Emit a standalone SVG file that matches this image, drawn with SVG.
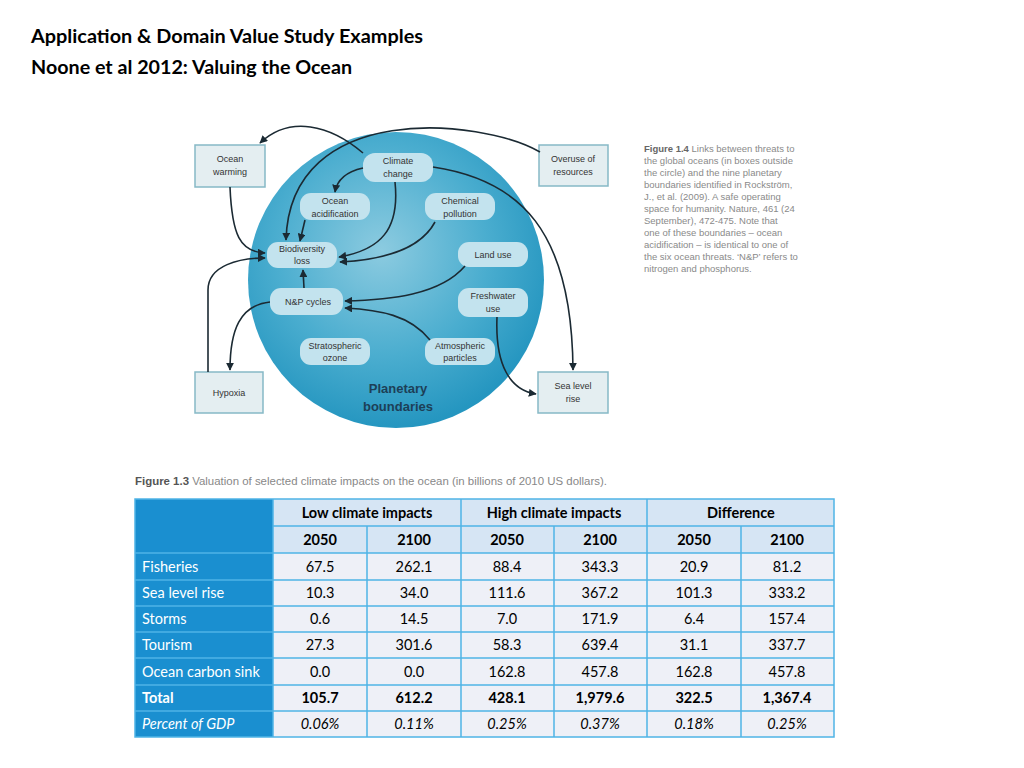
<svg xmlns="http://www.w3.org/2000/svg" width="1024" height="768" viewBox="0 0 1024 768">
<style>
.t{font-family:"Liberation Sans",Arial,sans-serif}
.ti{font-family:"Lato","Open Sans","Liberation Sans",sans-serif;font-weight:bold;font-size:18px;fill:#000}
.d{font-family:"Liberation Sans",Arial,sans-serif;font-size:9px;fill:#333;text-anchor:middle}
.box{fill:#e4eef1;stroke:#86b9c6;stroke-width:1.5}
.pill{fill:#c3e3ee}
.c{fill:none;stroke:#1b2a33;stroke-width:1.6;marker-end:url(#a)}
.cap{font-family:"Liberation Sans",sans-serif;font-size:10.5px;fill:#888}
.tb{font-family:"Lato","Open Sans","Liberation Sans",sans-serif;font-size:14.5px;fill:#000;text-anchor:middle}
.tl{font-family:"Lato","Open Sans","Liberation Sans",sans-serif;font-size:14.5px;fill:#fff}
.b{font-weight:bold}
.i{font-style:italic}
</style>
<defs>
<marker id="a" viewBox="0 0 10 10" refX="9" refY="5" markerWidth="5" markerHeight="5" orient="auto"><path d="M0,0 L10,5 L0,10 z" fill="#1b2a33"/></marker>
<radialGradient id="g" cx="0.45" cy="0.4" r="0.6"><stop offset="0" stop-color="#8ccbe0"/><stop offset="0.6" stop-color="#4aadcf"/><stop offset="1" stop-color="#2596c0"/></radialGradient>
</defs>
<rect width="1024" height="768" fill="#fff"/>
<text class="ti" x="31" y="43" textLength="392" lengthAdjust="spacingAndGlyphs">Application &amp; Domain Value Study Examples</text>
<text class="ti" x="31" y="74" textLength="321" lengthAdjust="spacingAndGlyphs">Noone et al 2012: Valuing the Ocean</text>

<circle cx="396" cy="280" r="148" fill="url(#g)"/>
<text class="t" x="398" y="393" font-size="13" font-weight="bold" fill="#1d3f57" text-anchor="middle">Planetary</text>
<text class="t" x="398" y="411" font-size="13" font-weight="bold" fill="#1d3f57" text-anchor="middle">boundaries</text>

<g id="ocean-warming"><rect class="box" x="195" y="145" width="70" height="42"/><text class="d" x="230" y="162">Ocean</text><text class="d" x="230" y="175">warming</text></g>
<g id="overuse"><rect class="box" x="539" y="145" width="69" height="41"/><text class="d" x="573" y="162">Overuse of</text><text class="d" x="573" y="175">resources</text></g>
<g id="hypoxia"><rect class="box" x="195" y="372" width="68" height="41"/><text class="d" x="229" y="396">Hypoxia</text></g>
<g id="sea-level"><rect class="box" x="538" y="372" width="70" height="41"/><text class="d" x="573" y="389">Sea level</text><text class="d" x="573" y="402">rise</text></g>
<g id="climate"><rect class="pill" x="363" y="153" width="70" height="29" rx="12"/><text class="d" x="398" y="164">Climate</text><text class="d" x="398" y="177">change</text></g>
<g id="acid"><rect class="pill" x="300" y="193" width="70" height="27" rx="11"/><text class="d" x="335" y="204">Ocean</text><text class="d" x="335" y="217">acidification</text></g>
<g id="chem"><rect class="pill" x="425" y="193" width="70" height="27" rx="11"/><text class="d" x="460" y="204">Chemical</text><text class="d" x="460" y="217">pollution</text></g>
<g id="bio"><rect class="pill" x="267" y="242" width="70" height="26" rx="11"/><text class="d" x="302" y="252">Biodiversity</text><text class="d" x="302" y="264">loss</text></g>
<g id="land"><rect class="pill" x="458" y="242" width="70" height="25" rx="11"/><text class="d" x="493" y="258">Land use</text></g>
<g id="np"><rect class="pill" x="270" y="288" width="73" height="27" rx="11"/><text class="d" x="308" y="305">N&amp;P cycles</text></g>
<g id="fresh"><rect class="pill" x="458" y="288" width="70" height="29" rx="11"/><text class="d" x="493" y="299">Freshwater</text><text class="d" x="493" y="312">use</text></g>
<g id="strat"><rect class="pill" x="300" y="338" width="70" height="27" rx="11"/><text class="d" x="335" y="349">Stratospheric</text><text class="d" x="335" y="361">ozone</text></g>
<g id="atmo"><rect class="pill" x="425" y="338" width="70" height="27" rx="11"/><text class="d" x="460" y="349">Atmospheric</text><text class="d" x="460" y="361">particles</text></g>

<g id="connectors">
<path class="c" d="M363,153 C330,125 290,115 260,143"/>
<path class="c" d="M540,152 C480,118 290,100 286,240"/>
<path class="c" d="M230,187 C232,235 240,252 265,253"/>
<path class="c" d="M363,168 C345,172 337,180 335,192"/>
<path class="c" d="M395,182 C400,230 380,250 339,257"/>
<path class="c" d="M305,220 L300,241"/>
<path class="c" d="M435,222 C420,250 380,260 340,262"/>
<path class="c" d="M208,372 L208,290 C208,265 240,258 265,258"/>
<path class="c" d="M304,288 L303,270"/>
<path class="c" d="M270,302 C240,305 230,330 230,370"/>
<path class="c" d="M465,266 C440,295 390,300 345,301"/>
<path class="c" d="M430,340 C410,315 380,310 345,308"/>
<path class="c" d="M497,317 C495,365 510,390 536,394"/>
<path class="c" d="M433,167 C520,180 572,230 573,370"/>
</g>

<g id="caption14" font-family="Liberation Sans,sans-serif" font-size="9.5" fill="#8a8a8a">
<text x="644" y="152"><tspan font-weight="bold" fill="#666">Figure 1.4</tspan> Links between threats to</text>
<text x="644" y="164">the global oceans (in boxes outside</text>
<text x="644" y="176">the circle) and the nine planetary</text>
<text x="644" y="188">boundaries identified in Rockström,</text>
<text x="644" y="200">J., et al. (2009). A safe operating</text>
<text x="644" y="212">space for humanity. Nature, 461 (24</text>
<text x="644" y="224">September), 472-475. Note that</text>
<text x="644" y="236">one of these boundaries – ocean</text>
<text x="644" y="248">acidification – is identical to one of</text>
<text x="644" y="260">the six ocean threats. ‘N&amp;P’ refers to</text>
<text x="644" y="272">nitrogen and phosphorus.</text>
</g>

<text class="cap" x="135" y="485" textLength="472" lengthAdjust="spacingAndGlyphs"><tspan font-weight="bold" fill="#555">Figure 1.3</tspan>  Valuation of selected climate impacts on the ocean (in billions of 2010 US dollars).</text>

<g id="table">
<rect x="135" y="499" width="699" height="238" fill="#eef0f7"/>
<rect x="273" y="499" width="561" height="54" fill="#d6e5f4"/>
<rect x="135" y="499" width="138" height="238" fill="#1a8fd0"/>
<g stroke="#4fb4e6" stroke-width="1.5" fill="none">
<rect x="135" y="499" width="699" height="238"/>
<path d="M273,526H834M135,553H834M135,580H834M135,606H834M135,632H834M135,658H834M135,685H834M135,711H834"/>
<path d="M273,499V737M461,499V737M647,499V737M367,526V737M554,526V737M741,526V737"/>
</g>
<g class="tb b">
<text x="367" y="518">Low climate impacts</text><text x="554" y="518">High climate impacts</text><text x="741" y="518">Difference</text>
<text x="320" y="545">2050</text><text x="414" y="545">2100</text><text x="507" y="545">2050</text><text x="600" y="545">2100</text><text x="694" y="545">2050</text><text x="787" y="545">2100</text>
</g>
<g class="tl">
<text x="142" y="572">Fisheries</text><text x="142" y="598">Sea level rise</text><text x="142" y="624">Storms</text><text x="142" y="650">Tourism</text><text x="142" y="677">Ocean carbon sink</text><text x="142" y="703" class="b">Total</text><text x="142" y="729" class="i">Percent of GDP</text>
</g>
<g class="tb">
<text x="320" y="572">67.5</text><text x="414" y="572">262.1</text><text x="507" y="572">88.4</text><text x="600" y="572">343.3</text><text x="694" y="572">20.9</text><text x="787" y="572">81.2</text>
<text x="320" y="598">10.3</text><text x="414" y="598">34.0</text><text x="507" y="598">111.6</text><text x="600" y="598">367.2</text><text x="694" y="598">101.3</text><text x="787" y="598">333.2</text>
<text x="320" y="624">0.6</text><text x="414" y="624">14.5</text><text x="507" y="624">7.0</text><text x="600" y="624">171.9</text><text x="694" y="624">6.4</text><text x="787" y="624">157.4</text>
<text x="320" y="650">27.3</text><text x="414" y="650">301.6</text><text x="507" y="650">58.3</text><text x="600" y="650">639.4</text><text x="694" y="650">31.1</text><text x="787" y="650">337.7</text>
<text x="320" y="677">0.0</text><text x="414" y="677">0.0</text><text x="507" y="677">162.8</text><text x="600" y="677">457.8</text><text x="694" y="677">162.8</text><text x="787" y="677">457.8</text>
<g class="b"><text x="320" y="703">105.7</text><text x="414" y="703">612.2</text><text x="507" y="703">428.1</text><text x="600" y="703">1,979.6</text><text x="694" y="703">322.5</text><text x="787" y="703">1,367.4</text></g>
<g class="i"><text x="320" y="729">0.06%</text><text x="414" y="729">0.11%</text><text x="507" y="729">0.25%</text><text x="600" y="729">0.37%</text><text x="694" y="729">0.18%</text><text x="787" y="729">0.25%</text></g>
</g>
</g>
</svg>
